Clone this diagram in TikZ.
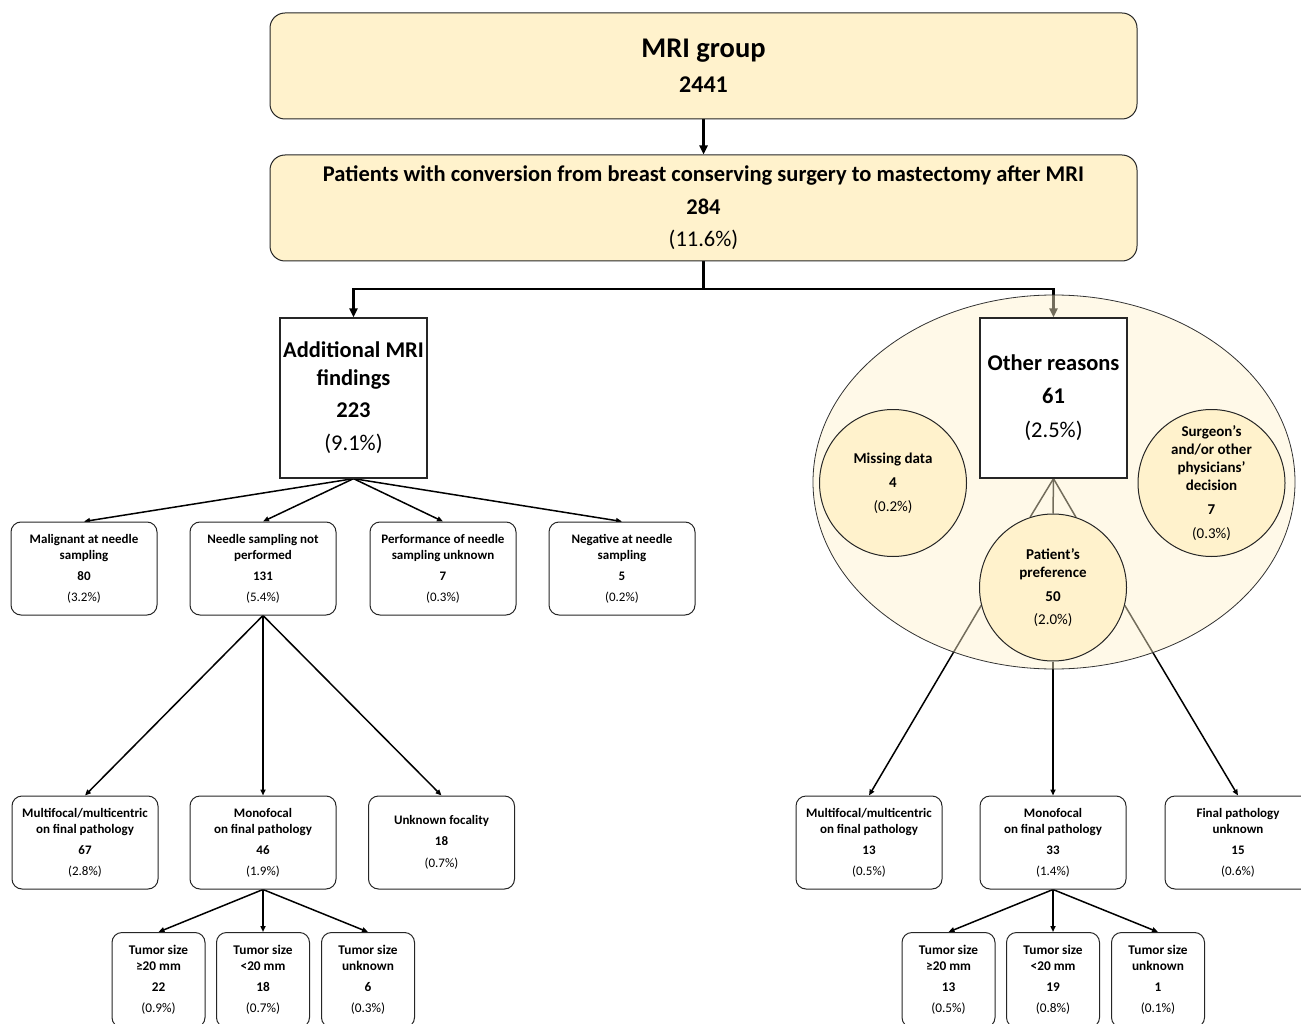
\documentclass[tikz,border=0pt]{standalone}
\usepackage{fontspec}
\setmainfont{Carlito}
\usetikzlibrary{shapes.geometric,arrows.meta}
\definecolor{yfill}{HTML}{FFF2CC}
\pgfdeclarelayer{lines}
\pgfdeclarelayer{ell}
\pgfsetlayers{lines,ell,main}
\begin{document}
\begin{tikzpicture}[x=1pt,y=-1pt,
 bigbox/.style={draw=black!85, line width=1pt, rounded corners=15pt, fill=yfill, minimum width=867pt, minimum height=106pt, align=center, inner sep=0pt},
 sqbox/.style={draw=black!85, line width=1.3pt, fill=white, minimum width=147pt, minimum height=160pt, align=center, inner sep=0pt, font=\fontsize{22.5}{28}\selectfont},
 rbox/.style={draw=black!85, line width=1pt, rounded corners=10pt, fill=white, minimum width=146pt, minimum height=93pt, align=center, inner sep=0pt, font=\fontsize{13}{16}\selectfont},
 tbox/.style={rbox, minimum width=93pt, minimum height=95pt, font=\fontsize{13.3}{16}\selectfont},
 circ/.style={circle, draw=black!85, line width=1pt, fill=yfill, minimum size=147pt, align=center, inner sep=0pt, font=\fontsize{15}{18}\selectfont},
 grpell/.style={ellipse, draw=black!80, line width=0.8pt, fill=yfill, fill opacity=0.45, minimum width=482pt, minimum height=374pt, inner sep=0pt},
 thk/.style={line width=2.6pt, -{Triangle[length=9pt,width=8pt]}},
 thkline/.style={line width=2.6pt},
 arr/.style={line width=1.5pt, -{Triangle[length=6pt,width=5pt]}},
 ln/.style={line width=1.5pt}
]
\useasboundingbox (0,0) rectangle (1301,1024);

% top boxes
\node[bigbox, font=\fontsize{24}{30}\selectfont] (mri) at (703.5,66) {{\fontsize{28.5}{30}\selectfont\bfseries MRI group}\\[5pt]\bfseries 2441};
\node[bigbox, font=\fontsize{22.5}{28}\selectfont] (conv) at (703.5,208) {\bfseries Patients with conversion from breast conserving surgery to mastectomy after MRI\\[4.5pt]\bfseries 284\\[4.5pt](11.6\%)};

% second level
\node[sqbox] (add) at (353.5,398) {\bfseries Additional MRI\\\bfseries findings\\[4pt]\bfseries 223\\[5pt](9.1\%)};
\node[sqbox] (oth) at (1053.5,398) {\bfseries Other reasons\\[5pt]\bfseries 61\\[6pt](2.5\%)};

% left tree
\node[rbox] (mal) at (84,568.5) {\bfseries Malignant at needle\\\bfseries sampling\\[5pt]\bfseries 80\\[5pt](3.2\%)};
\node[rbox] (nsp) at (263,568.5) {\bfseries Needle sampling not\\\bfseries performed\\[5pt]\bfseries 131\\[5pt](5.4\%)};
\node[rbox] (perf) at (443,568.5) {\bfseries Performance of needle\\\bfseries sampling unknown\\[5pt]\bfseries 7\\[5pt](0.3\%)};
\node[rbox] (neg) at (622,568.5) {\bfseries Negative at needle\\\bfseries sampling\\[5pt]\bfseries 5\\[5pt](0.2\%)};

\node[rbox] (mfl) at (85,842.5) {\bfseries Multifocal/multicentric\\\bfseries on final pathology\\[5pt]\bfseries 67\\[5pt](2.8\%)};
\node[rbox] (mono) at (263,842.5) {\bfseries Monofocal\\\bfseries on final pathology\\[5pt]\bfseries 46\\[5pt](1.9\%)};
\node[rbox] (unk) at (441.5,842.5) {\bfseries Unknown focality\\[5pt]\bfseries 18\\[6pt](0.7\%)};

\node[tbox] (t1) at (158.5,980) {\bfseries Tumor size\\\bfseries ≥20 mm\\[5pt]\bfseries 22\\[5pt](0.9\%)};
\node[tbox] (t2) at (263,980) {\bfseries Tumor size\\\bfseries <20 mm\\[5pt]\bfseries 18\\[5pt](0.7\%)};
\node[tbox] (t3) at (368,980) {\bfseries Tumor size\\\bfseries unknown\\[5pt]\bfseries 6\\[5pt](0.3\%)};

% right group
\node[circ] (miss) at (893,483) {\bfseries Missing data\\[6pt]\bfseries 4\\[6pt](0.2\%)};
\node[circ] (surg) at (1211.5,483) {\bfseries Surgeon’s\\\bfseries and/or other\\\bfseries physicians’\\\bfseries decision\\[6pt]\bfseries 7\\[6pt](0.3\%)};
\node[circ] (pp) at (1053,587.5) {\bfseries Patient’s\\\bfseries preference\\[6pt]\bfseries 50\\[5pt](2.0\%)};

\node[rbox] (mfr) at (869,842.5) {\bfseries Multifocal/multicentric\\\bfseries on final pathology\\[5pt]\bfseries 13\\[5pt](0.5\%)};
\node[rbox] (monor) at (1053,842.5) {\bfseries Monofocal\\\bfseries on final pathology\\[5pt]\bfseries 33\\[5pt](1.4\%)};
\node[rbox] (fpu) at (1238,842.5) {\bfseries Final pathology\\\bfseries unknown\\[5pt]\bfseries 15\\[5pt](0.6\%)};

\node[tbox] (t4) at (948.5,980) {\bfseries Tumor size\\\bfseries ≥20 mm\\[5pt]\bfseries 13\\[5pt](0.5\%)};
\node[tbox] (t5) at (1053,980) {\bfseries Tumor size\\\bfseries <20 mm\\[5pt]\bfseries 19\\[5pt](0.8\%)};
\node[tbox] (t6) at (1158,980) {\bfseries Tumor size\\\bfseries unknown\\[5pt]\bfseries 1\\[5pt](0.1\%)};

\coordinate (j) at (703.5,289);

\begin{pgfonlayer}{ell}
\node[grpell] (grp) at (1054,482) {};
\end{pgfonlayer}

\begin{pgfonlayer}{lines}
\draw[thk] (mri) -- (conv);
\draw[thkline] (conv.south) -- (j);
\draw[thk] (j) -| (add.north);
\draw[thk] (j) -| (oth.north);

\draw[arr] (add.south) -- (mal.north);
\draw[arr] (add.south) -- (nsp.north);
\draw[arr] (add.south) -- (perf.north);
\draw[arr] (add.south) -- (neg.north);

\draw[arr] (nsp.south) -- (mfl.north);
\draw[arr] (nsp.south) -- (mono.north);
\draw[arr] (nsp.south) -- (unk.north);

\draw[arr] (mono.south) -- (t1.north);
\draw[arr] (mono.south) -- (t2.north);
\draw[arr] (mono.south) -- (t3.north);

\draw[ln] (oth.south) -- (pp.108);
\draw[ln] (oth.south) -- (pp.north);
\draw[ln] (oth.south) -- (pp.72);

\draw[arr] (pp.194) -- (mfr.north);
\draw[arr] (pp.south) -- (monor.north);
\draw[arr] (pp.-14) -- (fpu.north);

\draw[arr] (monor.south) -- (t4.north);
\draw[arr] (monor.south) -- (t5.north);
\draw[arr] (monor.south) -- (t6.north);
\end{pgfonlayer}
\end{tikzpicture}
\end{document}
